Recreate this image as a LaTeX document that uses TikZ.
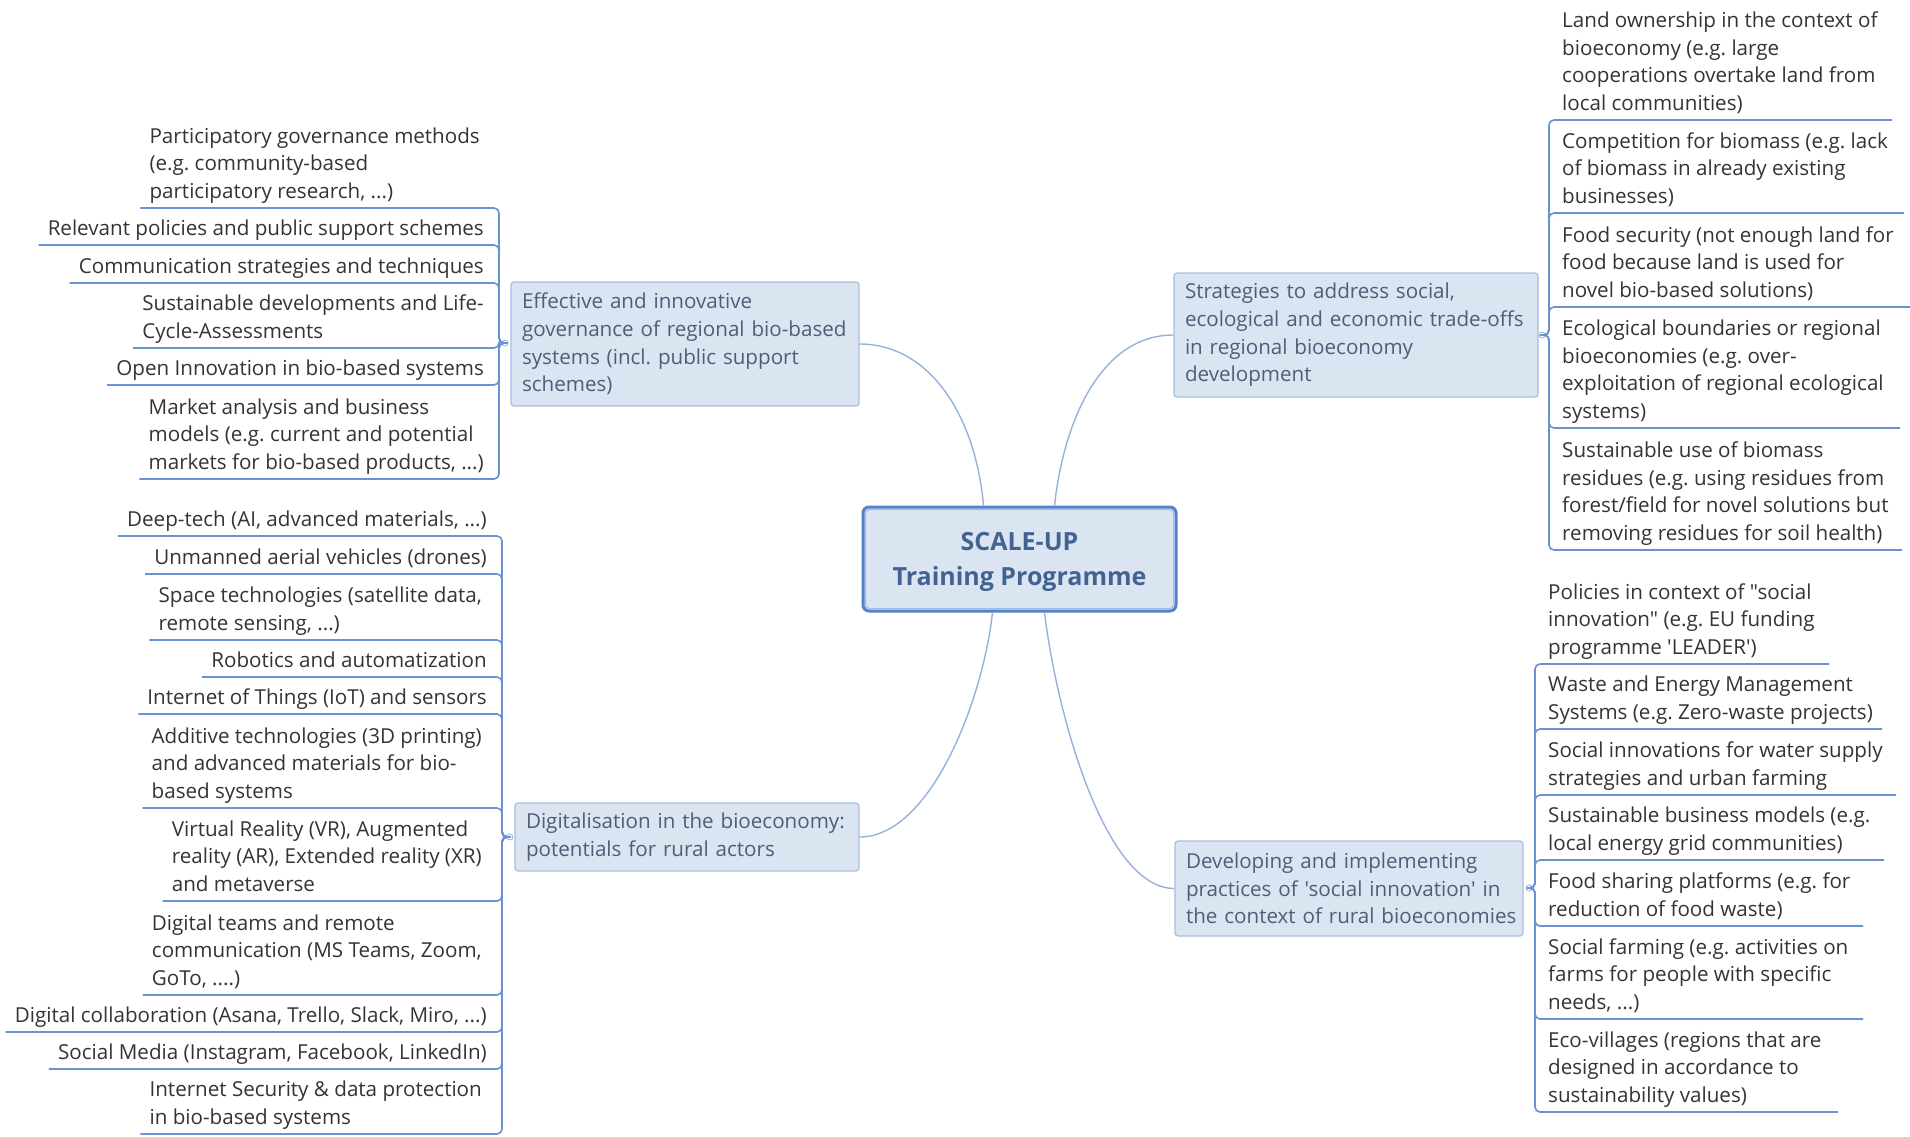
\documentclass[tikz,border=0pt]{standalone}
\usepackage{fontspec}
\setmainfont{Open Sans}[Ligatures=TeXOff]
\usetikzlibrary{calc}
\frenchspacing
\definecolor{topicf}{RGB}{219,229,241}
\definecolor{topicb}{RGB}{166,190,224}
\definecolor{topict}{RGB}{78,94,120}
\definecolor{centb}{RGB}{84,130,200}
\definecolor{centi}{RGB}{160,188,228}
\definecolor{centt}{RGB}{66,98,146}
\definecolor{leafc}{RGB}{52,52,52}
\definecolor{ulc}{RGB}{104,146,210}
\definecolor{curvc}{RGB}{150,178,220}
\newcommand{\leaffont}{\fontsize{20.6}{27.7}\selectfont\frenchspacing}
\newcommand{\centfont}{\fontsize{25}{35}\selectfont\bfseries}
\tikzset{
  leaf/.style={font=\leaffont, text=leafc, inner sep=0pt, align=left, yshift=-2.5pt},
  leafL/.style={leaf, anchor=base east},
  leafR/.style={leaf, anchor=base west},
  topic/.style={draw=topicb, fill=topicf, rounded corners=3pt, line width=1.2pt,
    text=topict, font=\leaffont, align=left, inner xsep=11pt, inner ysep=0pt},
  central/.style={draw=centb, fill=topicf, rounded corners=6pt, line width=3pt,
    minimum width=313pt, minimum height=104pt},
  uline/.style={draw=ulc, line width=1.6pt, rounded corners=5pt},
  curve/.style={draw=curvc, line width=1.4pt},
  joint/.style={circle, draw=curvc, fill=white, inner sep=0pt, minimum size=6pt, line width=0.8pt},
}
\begin{document}
\begin{tikzpicture}[x=1pt, y=-1pt]
\fill[white] (0,0) rectangle (1910,1136);
\useasboundingbox (0,0) rectangle (1910,1136);

% central
\node[central] (c) at (1019.5,559) {};
\node[text=centt, font=\centfont, align=center, inner sep=0pt] (ctext) at (1019.5,562) {SCALE-UP\\Training Programme};
\draw[centi, line width=1pt, rounded corners=4pt] ($(c.south west)+(4,-4)$) rectangle ($(c.north east)+(-4,4)$);

% main topics
\node[topic, text width=326pt, minimum height=124pt] (gov) at (685,344)
  {Effective and innovative\\\mbox{governance of regional bio-based}\\\mbox{systems (incl. public support}\\schemes)};
\node[topic, text width=322pt, minimum height=68pt] (dig) at (687,837)
  {\mbox{Digitalisation in the bioeconomy:}\\potentials for rural actors};
\node[topic, text width=342pt, minimum height=124pt] (str) at (1356,335)
  {Strategies to address social,\\\mbox{ecological and economic trade-offs}\\in regional bioeconomy\\development};
\node[topic, text width=326pt, minimum height=95pt] (dev) at (1349,888.5)
  {Developing and implementing\\\mbox{practices of 'social innovation' in}\\\mbox{the context of rural bioeconomies}};

% curves from centre
\coordinate (ct1) at ($(c.north)+(-36,0)$);
\coordinate (ct2) at ($(c.north)+(35,0)$);
\coordinate (cb1) at ($(c.south)+(-27,0)$);
\coordinate (cb2) at ($(c.south)+(25,0)$);
\draw[curve] (gov.east) .. controls +(70,0) and +(-8,-90) .. (ct1);
\draw[curve] (ct2) .. controls +(10,-90) and +(-70,0) .. (str.west);
\draw[curve] (dig.east) .. controls +(70,0) and +(-10,90) .. (cb1);
\draw[curve] (cb2) .. controls +(12,100) and +(-70,0) .. (dev.west);

% joints and bracket coordinates
\node[joint] (gj) at (505,343) {};
\coordinate (gbx) at (499,343);
\node[joint] (dj) at (510,837) {};
\coordinate (dbx) at (502,837);
\node[joint] (sj) at (1542,335) {};
\coordinate (sbx) at (1549,335);
\node[joint] (vj) at (1529,888) {};
\coordinate (vbx) at (1535,888);

% governance children
\node[leafL] (g1) at (480,196) {Participatory governance methods\\(e.g. community-based\\participatory research, ...)};
\node[leafL] (g2) at (484,233) {Relevant policies and public support schemes};
\node[leafL] (g3) at (484,271) {Communication strategies and techniques};
\node[leafL] (g4) at (484,336) {Sustainable developments and Life-\\Cycle-Assessments};
\node[leafL] (g5) at (484,373) {Open Innovation in bio-based systems};
\node[leafL] (g6) at (484,467) {Market analysis and business\\models (e.g. current and potential\\markets for bio-based products, ...)};
\foreach \n in {g1,g2,g3,g4,g5,g6}{
  \coordinate (\n u) at ($(\n.base west)+(-9,9.5)$);
  \draw[uline] (\n u) -- (\n u -| gbx) -- (gbx) -- (gj);
}

% digitalisation children
\node[leafL] (d1) at (487,524) {Deep-tech (AI, advanced materials, ...)};
\node[leafL] (d2) at (487,562) {Unmanned aerial vehicles (drones)};
\node[leafL] (d3) at (482,628) {Space technologies (satellite data,\\remote sensing, ...)};
\node[leafL] (d4) at (487,665) {Robotics and automatization};
\node[leafL] (d5) at (487,702) {Internet of Things (IoT) and sensors};
\node[leafL] (d6) at (482,796) {Additive technologies (3D printing)\\and advanced materials for bio-\\based systems};
\node[leafL] (d7) at (482,889) {Virtual Reality (VR), Augmented\\reality (AR), Extended reality (XR)\\and metaverse};
\node[leafL] (d8) at (482,983) {Digital teams and remote\\communication (MS Teams, Zoom,\\GoTo, ....)};
\node[leafL] (d9) at (487,1020) {Digital collaboration (Asana, Trello, Slack, Miro, ...)};
\node[leafL] (d10) at (487,1057) {Social Media (Instagram, Facebook, LinkedIn)};
\node[leafL] (d11) at (482,1122) {Internet Security \& data protection\\in bio-based systems};
\foreach \n in {d1,d2,d3,d4,d5,d6,d7,d8,d9,d10,d11}{
  \coordinate (\n u) at ($(\n.base west)+(-9,9.5)$);
  \draw[uline] (\n u) -- (\n u -| dbx) -- (dbx) -- (dj);
}

% strategies children
\node[leafR] (s1) at (1562,108) {Land ownership in the context of\\bioeconomy (e.g. large\\cooperations overtake land from\\local communities)};
\node[leafR] (s2) at (1562,201) {Competition for biomass (e.g. lack\\of biomass in already existing\\businesses)};
\node[leafR] (s3) at (1562,295) {Food security (not enough land for\\food because land is used for\\novel bio-based solutions)};
\node[leafR] (s4) at (1562,416) {Ecological boundaries or regional\\bioeconomies (e.g. over-\\exploitation of regional ecological\\systems)};
\node[leafR] (s5) at (1562,538) {Sustainable use of biomass\\residues (e.g. using residues from\\forest/field for novel solutions but\\removing residues for soil health)};
\foreach \n/\w in {s1/330,s2/342,s3/348,s4/338,s5/340}{
  \coordinate (\n u) at ($(\n.base west)+(\w,9.5)$);
  \draw[uline] (sj) -- (sbx) -- (sbx |- \n u) -- (\n u);
}

% developing children
\node[leafR] (v1) at (1548,652) {Policies in context of "social\\innovation" (e.g. EU funding\\programme 'LEADER')};
\node[leafR] (v2) at (1548,717) {Waste and Energy Management\\Systems (e.g. Zero-waste projects)};
\node[leafR] (v3) at (1548,783) {Social innovations for water supply\\strategies and urban farming};
\node[leafR] (v4) at (1548,848) {Sustainable business models (e.g.\\local energy grid communities)};
\node[leafR] (v5) at (1548,914) {Food sharing platforms (e.g. for\\reduction of food waste)};
\node[leafR] (v6) at (1548,1007) {Social farming (e.g. activities on\\farms for people with specific\\needs, ...)};
\node[leafR] (v7) at (1548,1100) {Eco-villages (regions that are\\designed in accordance to\\sustainability values)};
\foreach \n/\w in {v1/281,v2/334,v3/348,v4/336,v5/315,v6/315,v7/290}{
  \coordinate (\n u) at ($(\n.base west)+(\w,9.5)$);
  \draw[uline] (vj) -- (vbx) -- (vbx |- \n u) -- (\n u);
}
\end{tikzpicture}
\end{document}
